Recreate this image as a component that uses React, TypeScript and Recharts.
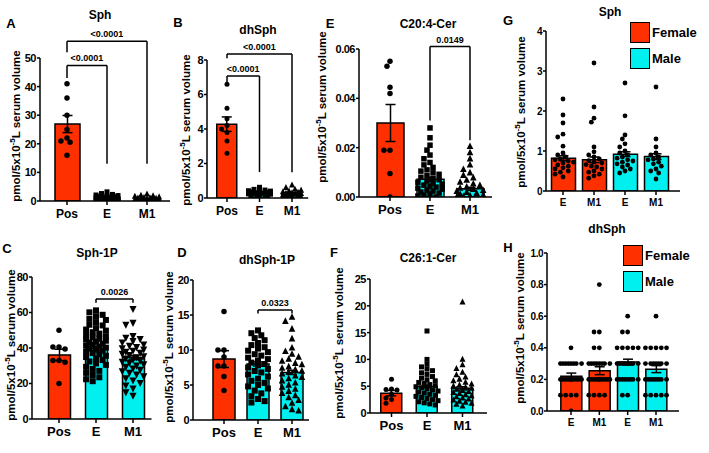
import React from 'react';
import { ComposedChart, Bar, Cell, ErrorBar, Scatter, XAxis, YAxis, ReferenceLine } from 'recharts';

const FONT = '"Liberation Sans", Arial, sans-serif';
const RED = '#ff3000';
const CYAN = '#00f0f0';

// ---------- data ----------
const GROUPS = ['Pos', 'E', 'M1'];
const SEX_GROUPS = ['E', 'M1', 'E', 'M1'];

// A  Sph
const A_MEAN = [26.9, 1.0, 0.7];
const A_SEM = [3.0, 0.12, 0.1];
const A_POS = [41, 36, 30, 25, 22, 21, 20.5, 16];
const A_E = [3.2, 2.6, 2.3, 2.1, 1.9, 1.8, 1.6, 1.5, 1.4, 1.3, 1.2, 1.1, 1.0, 0.9, 0.85, 0.8, 0.7, 0.6, 0.5, 0.45, 0.4, 0.3, 0.2, 0.1];
const A_M1 = [2.4, 2.0, 1.8, 1.6, 1.4, 1.2, 1.1, 1.0, 0.9, 0.8, 0.7, 0.6, 0.5, 0.45, 0.4, 0.3, 0.25, 0.2, 0.1, 0.05];
const A_P = ['<0.0001', '<0.0001'];

// B  dhSph
const B_MEAN = [4.28, 0.3, 0.28];
const B_SEM = [0.42, 0.02, 0.02];
const B_POS = [6.6, 5.2, 4.6, 4.2, 4.0, 3.8, 3.3, 2.6];
const B_E = [0.62, 0.5, 0.46, 0.42, 0.4, 0.37, 0.35, 0.33, 0.3, 0.28, 0.26, 0.24, 0.22, 0.2, 0.18, 0.15, 0.12, 0.08];
const B_M1 = [0.75, 0.6, 0.5, 0.45, 0.4, 0.36, 0.33, 0.3, 0.27, 0.25, 0.22, 0.2, 0.17, 0.14, 0.1, 0.06, 0.03];
const B_P = ['<0.0001', '<0.0001'];

// E  C20:4-Cer
const E_MEAN = [0.030, 0.0072, 0.0033];
const E_SEM = [0.0075, 0.0008, 0.0006];
const E_POS = [0.053, 0.055, 0.042, 0.0445, 0.019, 0.019, 0.0095, 0.0];
const E_E = [0.028, 0.024, 0.021, 0.019, 0.017, 0.0155, 0.014, 0.013, 0.012, 0.011, 0.0105, 0.0098, 0.0092, 0.0086, 0.008, 0.0075, 0.007, 0.0065, 0.006, 0.0056, 0.0052, 0.0048, 0.0044, 0.004, 0.0036, 0.0032, 0.0028, 0.0024, 0.002, 0.0016, 0.0012, 0.0008, 0.0004, 0.0];
const E_M1 = [0.0205, 0.018, 0.0155, 0.013, 0.0112, 0.0098, 0.0088, 0.0078, 0.0068, 0.006, 0.0053, 0.0047, 0.0041, 0.0036, 0.0031, 0.0027, 0.0023, 0.0019, 0.0015, 0.0011, 0.0008, 0.0005, 0.0002, 0.0];
const E_P = ['0.0149'];

// C  Sph-1P
const C_MEAN = [36.1, 39.8, 34.6];
const C_SEM = [3.2, 1.1, 1.2];
const C_POS = [50, 40.5, 40.5, 39.5, 33, 33, 32, 20];
const C_E = [61.2, 60.1, 58.7, 57.9, 56.4, 55.8, 54.6, 53.1, 52.7, 51.2, 50.4, 49.8, 48.9, 48.1, 47.3, 46.6, 46.0, 45.2, 44.7, 44.1, 43.5, 43.0, 42.4, 41.9, 41.3, 40.8, 40.2, 39.7, 39.1, 38.5, 37.8, 37.1, 36.5, 35.6, 34.9, 34.0, 33.2, 32.4, 31.3, 30.5, 29.4, 28.2, 27.1, 26.0, 24.8, 23.5, 22.4, 21.3];
const C_M1 = [62.1, 54.3, 53.2, 46.8, 45.9, 45.1, 44.0, 43.2, 42.1, 41.4, 40.6, 40.0, 39.3, 38.6, 38.0, 37.4, 36.8, 36.1, 35.5, 34.9, 34.2, 33.6, 33.0, 32.3, 31.7, 30.9, 30.2, 29.5, 28.6, 27.8, 27.0, 26.1, 25.2, 24.1, 23.0, 21.8, 20.4, 19.0, 17.3, 15.1, 13.2];
const C_P = ['0.0026'];

// D  dhSph-1P
const D_MEAN = [8.7, 8.0, 6.8];
const D_SEM = [1.2, 0.3, 0.3];
const D_POS = [15.5, 10, 10, 9, 7.7, 7.7, 6.2, 4.2];
const D_E = [12.8, 12.4, 12.1, 11.7, 11.4, 11.0, 10.7, 10.4, 10.2, 9.9, 9.7, 9.4, 9.2, 8.9, 8.7, 8.5, 8.2, 8.0, 7.8, 7.5, 7.3, 7.0, 6.8, 6.5, 6.2, 5.9, 5.6, 5.3, 5.0, 4.8, 4.5, 4.2, 3.8, 3.4, 3.0, 2.7, 2.5];
const D_M1 = [14.7, 14.1, 13.0, 11.6, 10.3, 9.8, 9.4, 9.0, 8.7, 8.4, 8.1, 7.9, 7.6, 7.4, 7.2, 7.0, 6.8, 6.6, 6.3, 6.1, 5.9, 5.6, 5.3, 5.0, 4.7, 4.4, 4.1, 3.8, 3.5, 3.2, 2.8, 2.4, 1.9, 1.5, 1.3];
const D_P = ['0.0323'];

// F  C26:1-Cer
const F_MEAN = [3.7, 4.95, 4.6];
const F_SEM = [0.5, 0.25, 0.3];
const F_POS = [6.3, 4.5, 4.4, 4.3, 3.5, 2.8, 2.5, 1.8];
const F_E = [15.3, 10.0, 9.1, 8.6, 8.2, 7.9, 7.5, 7.2, 6.8, 6.5, 6.2, 6.0, 5.7, 5.5, 5.3, 5.1, 4.9, 4.7, 4.5, 4.3, 4.1, 3.9, 3.7, 3.5, 3.3, 3.1, 2.9, 2.7, 2.5, 2.3, 2.1, 1.9, 1.7, 1.5];
const F_M1 = [20.7, 10.0, 9.0, 8.3, 7.6, 7.1, 6.7, 6.3, 6.0, 5.7, 5.4, 5.2, 5.0, 4.8, 4.6, 4.4, 4.2, 4.0, 3.8, 3.6, 3.4, 3.2, 3.0, 2.8, 2.6, 2.4, 2.2, 2.0, 1.8, 1.6, 1.3];

// G  Sph by sex (Female E, Female M1, Male E, Male M1)
const G_MEAN = [0.82, 0.78, 0.92, 0.86];
const G_SEM = [0.06, 0.07, 0.06, 0.07];
const G_EF = [2.3, 1.9, 1.7, 1.42, 1.35, 1.12, 0.95, 0.9, 0.85, 0.8, 0.78, 0.75, 0.72, 0.7, 0.65, 0.62, 0.58, 0.55, 0.5, 0.47, 0.42, 0.35];
const G_M1F = [3.2, 2.1, 1.82, 1.72, 1.1, 0.98, 0.9, 0.85, 0.8, 0.76, 0.72, 0.7, 0.66, 0.62, 0.6, 0.55, 0.5, 0.47, 0.42, 0.38, 0.32];
const G_EM = [2.7, 1.88, 1.4, 1.3, 1.18, 1.1, 1.0, 0.95, 0.9, 0.85, 0.82, 0.78, 0.75, 0.72, 0.68, 0.65, 0.6, 0.55, 0.5, 0.45];
const G_M1M = [2.6, 1.3, 1.1, 0.95, 0.9, 0.85, 0.8, 0.78, 0.72, 0.68, 0.62, 0.55, 0.5, 0.45, 0.3];

// H  dhSph by sex
const H_MEAN = [0.22, 0.255, 0.31, 0.265];
const H_SEM = [0.02, 0.025, 0.018, 0.022];
const H_EF = [0.4, 0.3, 0.3, 0.3, 0.3, 0.3, 0.3, 0.3, 0.3, 0.2, 0.2, 0.2, 0.2, 0.2, 0.2, 0.2, 0.2, 0.2, 0.2, 0.1, 0.1, 0.1, 0.1, 0.0];
const H_M1F = [0.8, 0.5, 0.5, 0.4, 0.4, 0.3, 0.3, 0.3, 0.3, 0.3, 0.3, 0.3, 0.3, 0.2, 0.2, 0.2, 0.2, 0.2, 0.2, 0.2, 0.2, 0.2, 0.2, 0.1, 0.1, 0.1, 0.1];
const H_EM = [0.6, 0.5, 0.5, 0.4, 0.4, 0.4, 0.4, 0.4, 0.3, 0.3, 0.3, 0.3, 0.3, 0.3, 0.3, 0.3, 0.2, 0.2, 0.2, 0.2, 0.2, 0.2, 0.2, 0.2, 0.1, 0.1];
const H_M1M = [0.6, 0.4, 0.4, 0.4, 0.4, 0.4, 0.3, 0.3, 0.3, 0.3, 0.3, 0.3, 0.3, 0.2, 0.2, 0.2, 0.2, 0.2, 0.2, 0.2, 0.2, 0.1, 0.1, 0.1, 0.1, 0.1];

const LEGEND = ['Female', 'Male'];

// ---------- helpers ----------

// simple beeswarm: spread points sideways so they don't sit on top of each other
function swarm(vals: number[], ppu: number, d: number, half: number): number[] {
  const order = vals.map((_, i) => i).sort((a, b) => vals[b] - vals[a]);
  const placed: { x: number; y: number }[] = [];
  const out: number[] = new Array(vals.length).fill(0);
  const step = d * 0.55;
  for (const i of order) {
    const y = vals[i] * ppu;
    let bestX = 0;
    let bestGap = -1;
    for (let k = 0; k < 80; k++) {
      const x = (k % 2 === 1 ? -1 : 1) * Math.ceil(k / 2) * step;
      if (Math.abs(x) > half) break;
      let gap = Infinity;
      for (const q of placed) gap = Math.min(gap, Math.hypot(q.x - x, q.y - y));
      if (gap >= d * 0.95) { bestX = x; break; }
      if (gap > bestGap) { bestGap = gap; bestX = x; }
    }
    placed.push({ x: bestX, y });
    out[i] = bestX;
  }
  return out;
}

const Mark = ({ cx, cy, kind, s }: any) => {
  if (cx == null || cy == null) return null;
  const r = s / 2;
  if (kind === 'square') return <rect x={cx - r} y={cy - r} width={s} height={s} fill="#000" />;
  if (kind === 'tri') {
    const h = s * 1.1;
    return <polygon points={`${cx},${cy - h * 0.6} ${cx - r * 1.1},${cy + h * 0.4} ${cx + r * 1.1},${cy + h * 0.4}`} fill="#000" />;
  }
  if (kind === 'tridown') {
    const h = s * 1.1;
    return <polygon points={`${cx},${cy + h * 0.6} ${cx - r * 1.1},${cy - h * 0.4} ${cx + r * 1.1},${cy - h * 0.4}`} fill="#000" />;
  }
  return <circle cx={cx} cy={cy} r={r} fill="#000" />;
};

type Bracket = { from: number; to: number; y: number; dl: number; dr: number; label: string };

type PanelProps = {
  axisX: number; axisEnd: number; top: number; base: number;
  c0: number; cN: number; barSize: number; cap?: number;
  yMax: number; yTicks: number[]; fmt?: (v: number) => string;
  names: string[]; means: number[]; sems: number[]; colors: string[];
  points: number[][]; marks: string[]; dots: number[];
  brackets?: Bracket[]; tickFont?: number; xFont?: number;
};

function Panel(p: PanelProps) {
  const n = p.names.length;
  const band = (p.cN - p.c0) / (n - 1);
  const a = p.c0 - band / 2;
  const b = p.cN + band / 2;
  const end = Math.max(p.axisEnd, b);
  const pad = { left: a - p.axisX, right: end - b };
  const yW = 40, mt = 60, mr = 12, xH = 30;
  const plotH = p.base - p.top;
  const ppu = plotH / p.yMax;
  const bars = p.names.map((_, i) => ({ i, mean: p.means[i], sem: p.sems[i] }));
  const pts = p.points.map((vals, i) => {
    const offs = swarm(vals, ppu, p.dots[i], p.barSize / 2 + 1);
    return vals.map((v, k) => ({ x: i + offs[k] / band, y: v }));
  });
  const tickStyle = { fill: '#000', fontSize: p.tickFont ?? 11, fontWeight: 700, fontFamily: FONT, letterSpacing: -0.5 };
  const line = { stroke: '#000', strokeWidth: 1.5 };
  const refs: React.ReactNode[] = [];
  (p.brackets || []).forEach((br, k) => {
    refs.push(
      <ReferenceLine key={`h${k}`} xAxisId="num" segment={[{ x: br.from, y: br.y }, { x: br.to, y: br.y }]} stroke="#000" strokeWidth={1.5} ifOverflow="visible"
        label={{ value: br.label, position: 'top', offset: 4, fill: '#000', fontSize: 9, fontWeight: 700, fontFamily: FONT }} />,
      <ReferenceLine key={`l${k}`} xAxisId="num" segment={[{ x: br.from, y: br.y }, { x: br.from, y: br.dl }]} stroke="#000" strokeWidth={1.5} ifOverflow="visible" />,
      <ReferenceLine key={`r${k}`} xAxisId="num" segment={[{ x: br.to, y: br.y }, { x: br.to, y: br.dr }]} stroke="#000" strokeWidth={1.5} ifOverflow="visible" />
    );
  });
  return (
    <div style={{ position: 'absolute', left: p.axisX - yW, top: p.top - mt }}>
      <ComposedChart width={yW + end - p.axisX + mr} height={mt + plotH + xH} data={bars}
        margin={{ top: mt, right: mr, bottom: 0, left: 0 }}>
        <XAxis xAxisId="num" dataKey="x" type="number" domain={[-0.5, n - 0.5]} allowDataOverflow
          ticks={p.names.map((_, i) => i)} interval={0} tickFormatter={(v: number) => p.names[Math.round(v)]}
          padding={pad} height={xH} axisLine={line} tickLine={line} tickSize={4} tickMargin={4}
          tick={{ fill: '#000', fontSize: p.xFont ?? 13, fontWeight: 700, fontFamily: FONT }} />
        <XAxis xAxisId="cat" dataKey="i" type="category" hide height={0} padding={pad} />
        <YAxis type="number" domain={[0, p.yMax]} allowDataOverflow ticks={p.yTicks} interval={0}
          tickFormatter={p.fmt} width={yW} axisLine={line} tickLine={line} tickSize={3} tickMargin={1} tick={tickStyle} />
        <Bar xAxisId="cat" dataKey="mean" barSize={p.barSize} stroke="#000" strokeWidth={1.5} isAnimationActive={false}>
          {bars.map((_, i) => <Cell key={i} fill={p.colors[i]} />)}
          <ErrorBar dataKey="sem" width={p.cap ?? 5} stroke="#000" strokeWidth={1.5} direction="y" />
        </Bar>
        {pts.map((d, i) => (
          <Scatter key={i} xAxisId="num" data={d} dataKey="y" isAnimationActive={false}
            shape={(sp: any) => <Mark cx={sp.cx} cy={sp.cy} kind={p.marks[i]} s={p.dots[i]} />} />
        ))}
        {refs}
      </ComposedChart>
    </div>
  );
}

const T = ({ x, y, size, children, rot }: any) => (
  <div style={{
    position: 'absolute', left: x, top: y, whiteSpace: 'nowrap', fontSize: size, fontWeight: 700, lineHeight: 1,
    transform: `translate(-50%, -50%)${rot ? ' rotate(-90deg)' : ''}`,
  }}>{children}</div>
);

const YTitle = ({ x, y }: { x: number; y: number }) => (
  <T x={x} y={y} size={11.5} rot>pmol/5x10<sup style={{ fontSize: '0.7em', lineHeight: 0 }}>-5</sup>L serum volume</T>
);

const Legend = ({ x, y }: { x: number; y: number }) => (
  <>
    {LEGEND.map((name, i) => (
      <div key={name} style={{ position: 'absolute', left: x, top: y + i * 26, display: 'flex', alignItems: 'center' }}>
        <div style={{ width: 18, height: 19, background: i === 0 ? RED : CYAN, border: '1.5px solid #000' }} />
        <span style={{ fontSize: 13, fontWeight: 700, marginLeft: 2 }}>{name}</span>
      </div>
    ))}
  </>
);

const THREE = [RED, CYAN, CYAN];
const SEX = [RED, RED, CYAN, CYAN];
const f2 = (v: number) => v.toFixed(2);
const f1 = (v: number) => v.toFixed(1);

export default function App() {
  return (
    <div style={{ position: 'absolute', left: 0, top: 0, width: 709, height: 453, background: '#fff', fontFamily: FONT, color: '#000', overflow: 'hidden' }}>
      {/* A */}
      <Panel axisX={40} axisEnd={170} top={57.5} base={200.5} c0={67} cN={147} barSize={25}
        yMax={50} yTicks={[0, 10, 20, 30, 40, 50]} names={GROUPS} means={A_MEAN} sems={A_SEM} colors={THREE}
        points={[A_POS, A_E, A_M1]} marks={['circle', 'square', 'tri']} dots={[5.5, 5, 5.5]} xFont={12}
        brackets={[
          { from: 0, to: 2, y: 55.9, dl: 52, dr: 13, label: A_P[0] },
          { from: 0, to: 1, y: 47.4, dl: 43, dr: 13, label: A_P[1] },
        ]} />
      {/* B */}
      <Panel axisX={207} axisEnd={308} top={60} base={198} c0={227} cN={292} barSize={20}
        yMax={8} yTicks={[0, 2, 4, 6, 8]} names={GROUPS} means={B_MEAN} sems={B_SEM} colors={THREE}
        points={[B_POS, B_E, B_M1]} marks={['circle', 'square', 'tri']} dots={[5, 5, 5.5]} xFont={12}
        brackets={[
          { from: 0, to: 2, y: 8.35, dl: 8.1, dr: 1.5, label: B_P[0] },
          { from: 0, to: 1, y: 7.07, dl: 6.7, dr: 1.5, label: B_P[1] },
        ]} />
      {/* E */}
      <Panel axisX={359} axisEnd={492} top={49} base={197} c0={390} cN={470} barSize={27}
        yMax={0.06} yTicks={[0, 0.02, 0.04, 0.06]} fmt={f2} names={GROUPS} means={E_MEAN} sems={E_SEM} colors={THREE}
        points={[E_POS, E_E, E_M1]} marks={['circle', 'square', 'tri']} dots={[5.5, 5.5, 6]} xFont={13}
        brackets={[{ from: 1, to: 2, y: 0.061, dl: 0.031, dr: 0.023, label: E_P[0] }]} />
      {/* G */}
      <Panel axisX={546} axisEnd={680} top={31} base={191} c0={563} cN={656} barSize={24}
        yMax={4} yTicks={[0, 1, 2, 3, 4]} names={SEX_GROUPS} means={G_MEAN} sems={G_SEM} colors={SEX}
        points={[G_EF, G_M1F, G_EM, G_M1M]} marks={['circle', 'circle', 'circle', 'circle']} dots={[4.8, 4.8, 4.8, 4.8]}
        tickFont={10} xFont={10} />
      {/* C */}
      <Panel axisX={32} axisEnd={150} top={277} base={419} c0={59} cN={133} barSize={22}
        yMax={80} yTicks={[0, 20, 40, 60, 80]} names={GROUPS} means={C_MEAN} sems={C_SEM} colors={THREE}
        points={[C_POS, C_E, C_M1]} marks={['circle', 'square', 'tridown']} dots={[5.5, 6, 6.5]}
        brackets={[{ from: 1, to: 2, y: 67.6, dl: 65.5, dr: 65.5, label: C_P[0] }]} />
      {/* D */}
      <Panel axisX={193} axisEnd={307} top={280} base={420} c0={224} cN={292} barSize={22}
        yMax={20} yTicks={[0, 5, 10, 15, 20]} names={GROUPS} means={D_MEAN} sems={D_SEM} colors={THREE}
        points={[D_POS, D_E, D_M1]} marks={['circle', 'square', 'tri']} dots={[5.5, 6, 6]}
        brackets={[{ from: 1, to: 2, y: 15.7, dl: 15.2, dr: 15.2, label: D_P[0] }]} />
      {/* F */}
      <Panel axisX={370} axisEnd={487} top={279} base={413} c0={391.5} cN={462.5} barSize={21}
        yMax={25} yTicks={[0, 5, 10, 15, 20, 25]} names={GROUPS} means={F_MEAN} sems={F_SEM} colors={THREE}
        points={[F_POS, F_E, F_M1]} marks={['circle', 'square', 'tri']} dots={[5, 5, 5.5]} />
      {/* H */}
      <Panel axisX={547} axisEnd={679} top={253} base={411} c0={571} cN={656} barSize={21}
        yMax={1} yTicks={[0, 0.2, 0.4, 0.6, 0.8, 1.0]} fmt={f1} names={SEX_GROUPS} means={H_MEAN} sems={H_SEM} colors={SEX}
        points={[H_EF, H_M1F, H_EM, H_M1M]} marks={['circle', 'circle', 'circle', 'circle']} dots={[4.8, 4.8, 4.8, 4.8]}
        tickFont={10} xFont={10} />

      {/* panel letters */}
      <T x={11} y={23} size={13}>A</T>
      <T x={178} y={22} size={13}>B</T>
      <T x={330} y={23} size={13}>E</T>
      <T x={508} y={20} size={13}>G</T>
      <T x={7} y={248} size={13}>C</T>
      <T x={182} y={252} size={13}>D</T>
      <T x={334} y={252} size={13}>F</T>
      <T x={508} y={247} size={13}>H</T>

      {/* titles */}
      <T x={100} y={15} size={12}>Sph</T>
      <T x={258} y={30} size={12}>dhSph</T>
      <T x={428} y={24} size={12}>C20:4-Cer</T>
      <T x={610} y={12} size={12}>Sph</T>
      <T x={97} y={253} size={12}>Sph-1P</T>
      <T x={267} y={260} size={12}>dhSph-1P</T>
      <T x={428} y={258} size={12}>C26:1-Cer</T>
      <T x={607} y={229} size={12}>dhSph</T>

      {/* y axis titles */}
      <YTitle x={17} y={126} />
      <YTitle x={187} y={130} />
      <YTitle x={323} y={107} />
      <YTitle x={522} y={112} />
      <YTitle x={12} y={345} />
      <YTitle x={170} y={347} />
      <YTitle x={340} y={343} />
      <YTitle x={521} y={328} />

      <Legend x={630} y={22} />
      <Legend x={623} y={245} />
    </div>
  );
}
